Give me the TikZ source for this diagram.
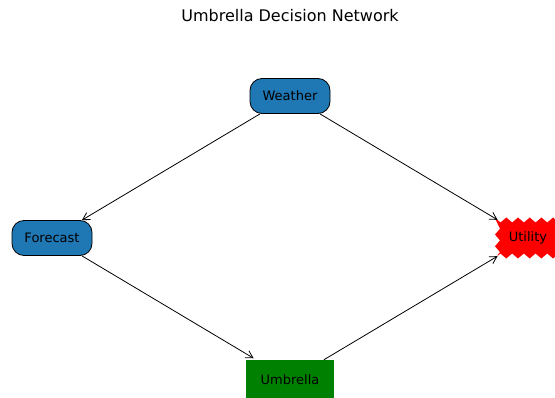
\documentclass[tikz,border=0pt]{standalone}
\usepackage{fontspec}
\setmainfont{DejaVu Sans}
\usetikzlibrary{arrows.meta,decorations.pathmorphing}
\definecolor{chanceblue}{HTML}{1F77B4}
\definecolor{decgreen}{HTML}{008000}

\begin{document}
\begin{tikzpicture}[x=1pt, y=-1pt,
	chance/.style={draw=black, fill=chanceblue, rounded corners=12pt, line width=0.8pt,
		minimum width=80pt, minimum height=35pt, inner sep=0pt, font=\fontsize{13}{15}\selectfont},
	decision/.style={fill=decgreen, minimum width=88pt, minimum height=40pt, inner sep=0pt,
		font=\fontsize{13}{15}\selectfont},
	utility/.style={fill=red, decorate, decoration={zigzag, segment length=11.7pt, amplitude=2.5pt},
		minimum width=61pt, minimum height=36pt, inner sep=0pt, font=\fontsize{13}{15}\selectfont},
	link/.style={-{Straight Barb[length=7pt, width=8pt]}, line width=0.8pt}]
			%%%%% START %%%%%
			
			\useasboundingbox (0, 0) rectangle (555, 398);
			\clip (0, 0) rectangle (555, 398);
			
			\node (title) at (290, 16) {\fontsize{16}{19}\selectfont Umbrella Decision Network};
			
			\node[chance] (weather) at (290, 96) {Weather};
			\node[chance] (forecast) at (52, 238) {Forecast};
			\node[utility] (utility) at (528, 238) {Utility};
			\node[decision] (umbrella) at (290, 380) {Umbrella};
			
			\draw[link] (weather) -- (forecast);
			\draw[link] (weather) -- (utility);
			\draw[link, shorten >=3pt] (forecast) -- (umbrella);
			\draw[link] (umbrella) -- (utility);
			
			%%%%% END %%%%%
		\end{tikzpicture}
\end{document}
